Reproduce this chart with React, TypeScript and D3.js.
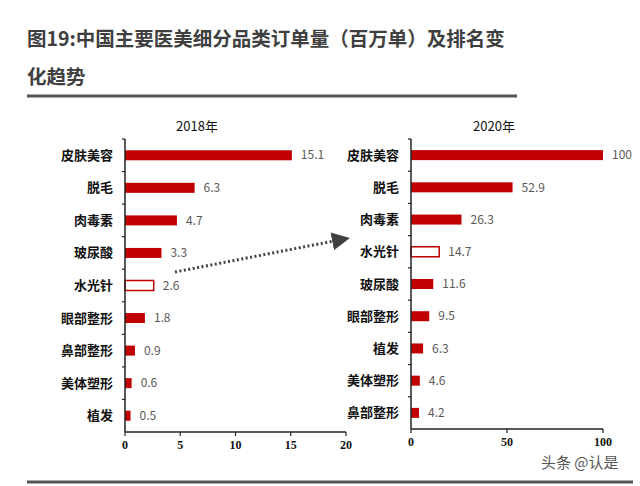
import React from 'react'
import * as d3 from 'd3'

// 2018 orders (millions)
const cats2018 = ['皮肤美容', '脱毛', '肉毒素', '玻尿酸', '水光针', '眼部整形', '鼻部整形', '美体塑形', '植发']
const vals2018 = [15.1, 6.3, 4.7, 3.3, 2.6, 1.8, 0.9, 0.6, 0.5]
const ticks2018 = [0, 5, 10, 15, 20]

// 2020 orders (millions)
const cats2020 = ['皮肤美容', '脱毛', '肉毒素', '水光针', '玻尿酸', '眼部整形', '植发', '美体塑形', '鼻部整形']
const vals2020 = [100, 52.9, 26.3, 14.7, 11.6, 9.5, 6.3, 4.6, 4.2]
const ticks2020 = [0, 50, 100]

const highlight = '水光针'
const RED = '#C00000'
const CJK = '"Noto Sans CJK SC", "Noto Sans", sans-serif'

interface PanelProps {
  title: string
  titleX: number
  cats: string[]
  vals: number[]
  ticks: number[]
  x0: number
  x1: number
  y0: number
  y1: number
}

const Panel = ({ title, titleX, cats, vals, ticks, x0, x1, y0, y1 }: PanelProps) => {
  const x = d3.scaleLinear().domain([0, ticks[ticks.length - 1]]).range([x0, x1])
  const y = d3.scaleBand().domain(cats).range([y0, y1])
  const bh = 10
  return (
    <g>
      <text x={titleX} y={y0 - 8} textAnchor="middle" fontSize={13} fontFamily={CJK} fill="#111">
        {title}
      </text>
      {cats.map((c, i) => {
        const cy = (y(c) as number) + y.bandwidth() / 2
        const hollow = c === highlight
        return (
          <g key={c}>
            <rect
              x={x(0)}
              y={cy - bh / 2}
              width={x(vals[i]) - x(0)}
              height={bh}
              fill={hollow ? '#fff' : RED}
              stroke={RED}
              strokeWidth={hollow ? 1.5 : 0}
            />
            <text x={x(vals[i]) + 9} y={cy} dy="0.35em" fontSize={12} fontFamily={CJK} fill="#595959">
              {vals[i]}
            </text>
            <text x={x0 - 12} y={cy} dy="0.35em" textAnchor="end" fontSize={13} fontWeight="bold" fontFamily={CJK} fill="#111">
              {c}
            </text>
          </g>
        )
      })}
      {/* y axis */}
      <line x1={x0} x2={x0} y1={y0} y2={y1} stroke="#222" strokeWidth={1.5} />
      {cats.map((c) => (
        <line key={'t' + c} x1={x0 - 3} x2={x0} y1={y(c) as number} y2={y(c) as number} stroke="#222" strokeWidth={1.2} />
      ))}
      {/* x axis */}
      <line x1={x0} x2={x1} y1={y1} y2={y1} stroke="#222" strokeWidth={1.5} />
      {ticks.map((t) => (
        <g key={'x' + t}>
          <line x1={x(t)} x2={x(t)} y1={y1} y2={y1 + 4} stroke="#222" strokeWidth={1.2} />
          <text x={x(t)} y={y1 + 17} textAnchor="middle" fontSize={12} fontWeight="bold" fontFamily='"Liberation Serif", "Times New Roman", serif' fill="#111">
            {t}
          </text>
        </g>
      ))}
    </g>
  )
}

const App = () => {
  return (
    <svg width={640} height={486} style={{ position: 'absolute', left: 0, top: 0, background: '#fff' }}>
      <defs>
        <marker id="arr" viewBox="0 0 10 10" refX="1" refY="5" markerWidth="6" markerHeight="6" orient="auto" markerUnits="strokeWidth">
          <path d="M0,0 L10,5 L0,10 z" fill="#404040" />
        </marker>
      </defs>
      <text x={27} y={46} fontSize={19.5} fontWeight="bold" fontFamily={CJK} fill="#3f3f3f">
        图19:中国主要医美细分品类订单量（百万单）及排名变
      </text>
      <text x={27} y={84} fontSize={19.5} fontWeight="bold" fontFamily={CJK} fill="#3f3f3f">
        化趋势
      </text>
      <line x1={27} x2={517} y1={96} y2={96} stroke="#555" strokeWidth={3} />

      <Panel title="2018年" titleX={197} cats={cats2018} vals={vals2018} ticks={ticks2018} x0={125} x1={346} y0={139} y1={432} />
      <Panel title="2020年" titleX={494} cats={cats2020} vals={vals2020} ticks={ticks2020} x0={411} x1={603} y0={139} y1={429} />

      <line x1={175} y1={272} x2={334} y2={241} stroke="#404040" strokeWidth={3} strokeDasharray="2 2.5" markerEnd="url(#arr)" />

      <text x={541} y={468} fontSize={15} fontFamily={CJK} fill="#555">
        头条 @认是
      </text>
      <line x1={27} x2={633} y1={482} y2={482} stroke="#555" strokeWidth={3} />
    </svg>
  )
}

export default App
